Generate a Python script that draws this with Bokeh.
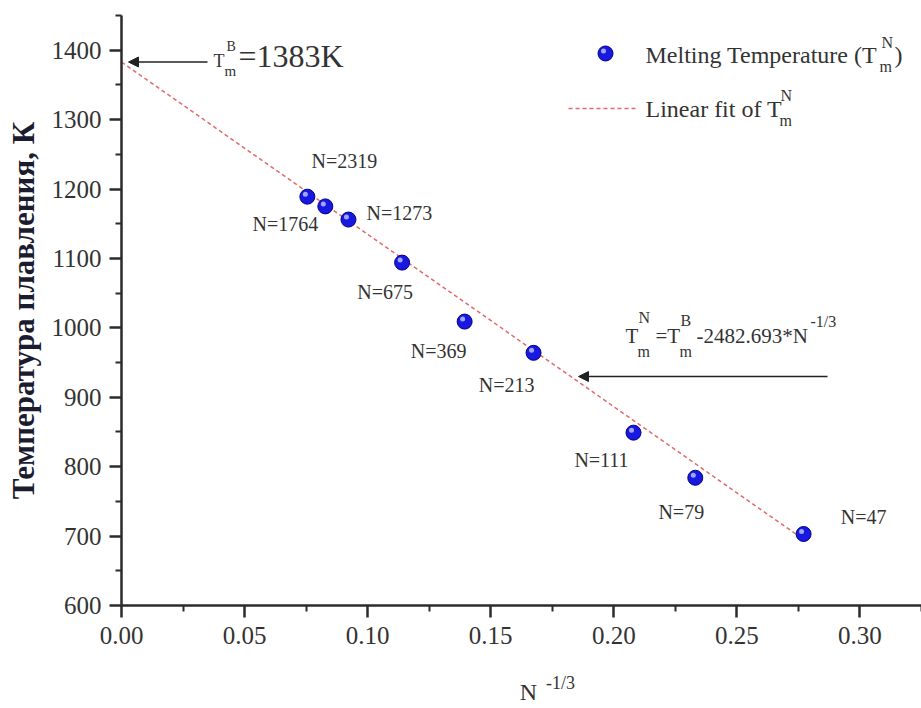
import numpy as np
from bokeh.plotting import figure
from bokeh.models import (Range1d, Label, Arrow, NormalHead, FixedTicker,
                          NumeralTickFormatter, LinearAxis)
from bokeh.embed import file_html
from bokeh.resources import INLINE

# Cluster sizes and their melting temperatures
cluster_sizes = [2319, 1764, 1273, 675, 369, 213, 111, 79, 47]
n_inv_cbrt = [0.0755, 0.0828, 0.0922, 0.1140, 0.1394, 0.1674, 0.2080, 0.2331, 0.2771]
melting_temp = [1189, 1175, 1156, 1094, 1009, 964, 849, 784, 703]

# Linear fit T_m^N = T_m^B - 2482.693 * N^(-1/3)
bulk_melting = 1383
fit_slope = -2482.693

x_ticks = [0.00, 0.05, 0.10, 0.15, 0.20, 0.25, 0.30]
x_minor = [0.025, 0.075, 0.125, 0.175, 0.225, 0.275, 0.325]
y_ticks = [600, 700, 800, 900, 1000, 1100, 1200, 1300, 1400]
y_minor = [650, 750, 850, 950, 1050, 1150, 1250, 1350, 1450]

# label offsets (pixels) for each point's N= caption
label_dx = [37, -40, 51, -17, -26, -27, -32, -14, 60]
label_dy = [-36, 18, -7, 29, 29, 32, 27, 34, -17]

W, H = 921, 708
LEFT, RIGHT, TOP, BOTTOM = 121, 0, 15, 103
X0, X1 = 0.0, 0.325
Y0, Y1 = 600, 1450
FW = W - LEFT - RIGHT
FH = H - TOP - BOTTOM

SERIF = "Liberation Serif"
TEXT = "#333333"


def fx(px):
    return X0 + (px - LEFT) / FW * (X1 - X0)


def fy(py):
    return Y0 + (TOP + FH - py) / FH * (Y1 - Y0)


p = figure(width=W, height=H, output_backend="svg", toolbar_location=None,
           x_range=Range1d(X0, X1), y_range=Range1d(Y0, Y1),
           min_border_left=LEFT, min_border_right=RIGHT,
           min_border_top=TOP, min_border_bottom=BOTTOM)
p.outline_line_color = None
p.xgrid.visible = False
p.ygrid.visible = False
p.background_fill_color = "white"
p.border_fill_color = "white"

for ax in (p.xaxis[0], p.yaxis[0]):
    ax.axis_line_width = 2.5
    ax.axis_line_color = "#2b2b2b"
    ax.major_tick_line_color = "#2b2b2b"
    ax.minor_tick_line_color = "#2b2b2b"
    ax.major_tick_line_width = 2.5
    ax.minor_tick_line_width = 2
    ax.major_tick_in = 0
    ax.major_tick_out = 12
    ax.minor_tick_in = 0
    ax.minor_tick_out = 6
    ax.major_label_text_font = SERIF
    ax.major_label_text_font_size = "25px"
    ax.major_label_text_color = "#333333"

p.xaxis.ticker = FixedTicker(ticks=x_ticks, minor_ticks=x_minor)
p.xaxis.formatter = NumeralTickFormatter(format="0.00")
p.xaxis.major_label_standoff = 9
p.yaxis.ticker = FixedTicker(ticks=y_ticks, minor_ticks=y_minor)
p.yaxis.major_label_standoff = 8
p.yaxis.axis_label = "Температура плавления, К"
p.yaxis.axis_label_text_font = SERIF
p.yaxis.axis_label_text_font_style = "bold"
p.yaxis.axis_label_text_font_size = "31px"
p.yaxis.axis_label_text_color = "#1c1c30"
p.yaxis.axis_label_standoff = 8


# x axis title N^(-1/3): two bare axes below the main one, one per text piece
def title_axis(text, px, size, standoff):
    pos = fx(px)
    ax = LinearAxis(ticker=FixedTicker(ticks=[pos], minor_ticks=[]),
                    major_label_overrides={pos: text},
                    axis_line_color=None, major_tick_line_color=None,
                    minor_tick_line_color=None, major_tick_out=0, major_tick_in=0,
                    major_label_standoff=standoff,
                    major_label_text_font=SERIF,
                    major_label_text_font_size=f"{size}px",
                    major_label_text_color=TEXT)
    p.add_layout(ax, "below")


title_axis("-1/3", 560, 18, 26)
title_axis("N", 528, 24, -17)

# fit line
fit_x = np.array([0.0, max(n_inv_cbrt)])
fit_y = bulk_melting + fit_slope * fit_x
p.line(fit_x, fit_y, line_color="#e06a6a", line_width=1.5, line_dash="4 3")

# spheres: body plus a small highlight
px_x = (X1 - X0) / FW
px_y = (Y1 - Y0) / FH
xs = np.array(n_inv_cbrt)
ys = np.array(melting_temp)
p.scatter(xs, ys, size=15, fill_color="#1818e0", line_color="#00008a", line_width=1)
p.scatter(xs - 2 * px_x, ys + 2.5 * px_y, size=5, fill_color="#b8c0ff",
          line_color=None, fill_alpha=0.85)

# N= captions
p.text(x=xs, y=ys, text=[f"N={n}" for n in cluster_sizes],
       x_offset=label_dx, y_offset=label_dy,
       text_font={"value": SERIF}, text_font_size="20px", text_color=TEXT,
       text_align="center", text_baseline="middle")


def put(text, px, py, size, color=TEXT, style="normal"):
    p.add_layout(Label(x=fx(px), y=fy(py), text=text, text_font=SERIF,
                       text_font_size=f"{size}px", text_color=color,
                       text_font_style=style,
                       text_align="left", text_baseline="middle"))


# bulk melting point annotation
p.add_layout(Arrow(end=NormalHead(size=10, fill_color="#222222", line_color="#222222"),
                   x_start=fx(207), y_start=bulk_melting, x_end=fx(128), y_end=bulk_melting,
                   line_color="#222222", line_width=1.5))
put("T", 213, 60, 18)
put("B", 226, 46, 14)
put("m", 224, 70, 15)
put("=1383K", 238, 55, 32)

# fit equation annotation
put("T", 625, 335, 21)
put("N", 638, 317, 16)
put("m", 637, 351, 16)
put("=T", 655, 335, 21)
put("B", 680, 320, 16)
put("m", 679, 351, 16)
put("-2482.693*N", 696, 335, 21)
put("-1/3", 810, 321, 16)
p.add_layout(Arrow(end=NormalHead(size=10, fill_color="#222222", line_color="#222222"),
                   x_start=fx(827), y_start=fy(376), x_end=fx(578), y_end=fy(376),
                   line_color="#222222", line_width=1.5))

# legend
lx, ly = fx(605), fy(53)
p.scatter([lx], [ly], size=15, fill_color="#1818e0", line_color="#00008a", line_width=1)
p.scatter([lx - 2 * px_x], [ly + 2.5 * px_y], size=5, fill_color="#b8c0ff",
          line_color=None, fill_alpha=0.85)
put("Melting Temperature (T", 645, 54, 24)
put("N", 881, 42, 16)
put("m", 879, 66, 16)
put(")", 894, 54, 24)
p.line([fx(568), fx(638)], [fy(108), fy(108)], line_color="#e06a6a",
       line_width=1.5, line_dash="4 3")
put("Linear fit of T", 645, 108, 24)
put("N", 780, 95, 16)
put("m", 779, 120, 16)

open("out.html", "w").write(file_html(p, INLINE))
